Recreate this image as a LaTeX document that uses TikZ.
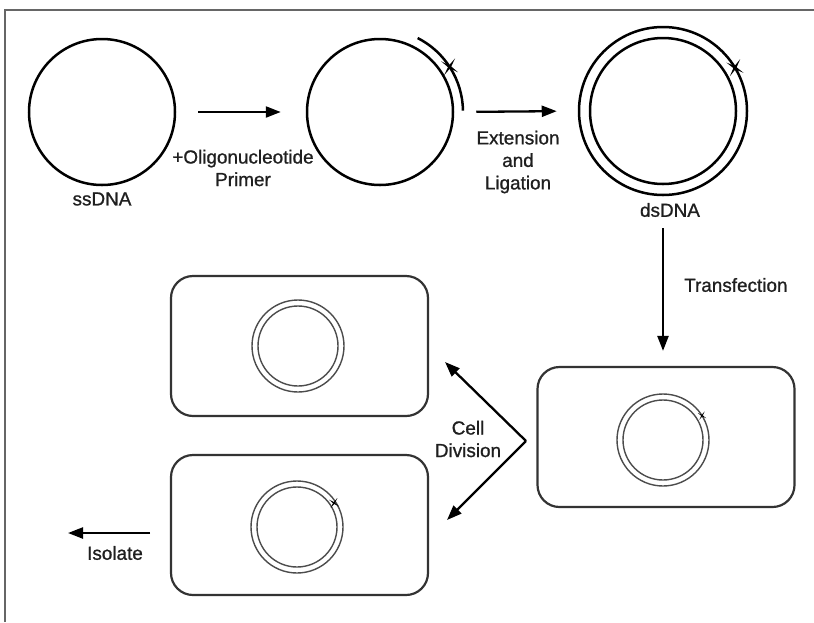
\documentclass[tikz,border=0pt]{standalone}
\usepackage{fontspec}
\setmainfont{Liberation Sans}
\newfontfamily\lblfont[FakeBold=1]{Liberation Sans}
\usetikzlibrary{arrows.meta}
\newcommand\spk[3]{%
  \fill[shift={#1}, rotate=#3] (#2,0) -- (0.12*#2,0.12*#2) -- (0,#2) -- (-0.12*#2,0.12*#2) -- (-#2,0) -- (-0.12*#2,-0.12*#2) -- (0,-#2) -- (0.12*#2,-0.12*#2) -- cycle;}
\begin{document}
\begin{tikzpicture}[x=1pt,y=-1pt,
  lbl/.style={font=\lblfont\fontsize{18.9}{22.5}\selectfont, align=center, inner sep=0pt, text=black!88},
  dna/.style={circle, draw=black, line width=2.5pt, inner sep=0pt},
  cellbox/.style={draw=black!80, line width=2.2pt, rounded corners=22pt, minimum width=257pt, minimum height=140pt, inner sep=0pt},
  ring/.style={circle, draw=black!70, line width=1.4pt, inner sep=0pt},
  flow/.style={line width=2.3pt, -{Triangle[length=15pt,width=11pt]}},
]
\useasboundingbox (0,0) rectangle (814,622);
\draw[black!60, line width=1.5pt] (5,622) -- (5,10) -- (814,10);

% top row
\node[dna, minimum size=146pt] (ss) at (102,112) {};
\node[lbl] (sslbl) at (102,199) {ssDNA};
\node[dna, minimum size=146pt] (ps) at (380,112) {};
\draw[line width=2.5pt] (ps.center) ++(-63:83) arc[start angle=-63, end angle=-1, radius=83];
\spk{(449.6,66.8)}{10}{-33}
\node[dna, minimum size=168pt] (ds) at (663,111) {};
\node[dna, minimum size=146pt] (dsi) at (663,111) {};
\spk{(735,67.7)}{10}{-31}
\node[lbl] (dslbl) at (670,210) {dsDNA};

\draw[flow, shorten <=22pt, shorten >=25pt] (ss.east) -- (ps.west);
\node[lbl] (primer) at (243,168) {+Oligonucleotide\\Primer};
\draw[flow, shorten <=22pt, shorten >=21pt] (ps.east) -- (ds.west);
\node[lbl] (ext) at (518,162) {Extension\\and\\Ligation};

% cells
\node[cellbox] (rc) at (666,437) {};
\node[ring, minimum size=92pt] (rco) at (663,440) {};
\node[ring, minimum size=80pt] (rci) at (663,440) {};
\spk{(702,415.6)}{5}{-32}

\node[cellbox] (tc) at (299.5,346) {};
\node[ring, minimum size=92pt] (tco) at (298,346) {};
\node[ring, minimum size=80pt] (tci) at (298,346) {};

\node[cellbox] (bc) at (299.5,525) {};
\node[ring, minimum size=92pt] (bco) at (297,527) {};
\node[ring, minimum size=80pt] (bci) at (297,527) {};
\spk{(334,503)}{6}{-34}

% transfection
\draw[flow, shorten <=32pt, shorten >=15pt] (ds.south) -- (ds.south |- rc.north);
\node[lbl, anchor=west] (trans) at (684,285) {Transfection};

% cell division
\coordinate (v) at (526,441);
\coordinate (up) at (445,362);
\coordinate (dn) at (447,520);
\draw[flow] (v) -- (up);
\draw[flow] (v) -- (dn);
\node[lbl] (cdiv) at (468,439) {Cell\\Division};

% isolate
\coordinate (iso1) at (150,533);
\coordinate (iso2) at (68,533);
\draw[flow] (iso1) -- (iso2);
\node[lbl] (isolbl) at (115,553) {Isolate};
\end{tikzpicture}
\end{document}
